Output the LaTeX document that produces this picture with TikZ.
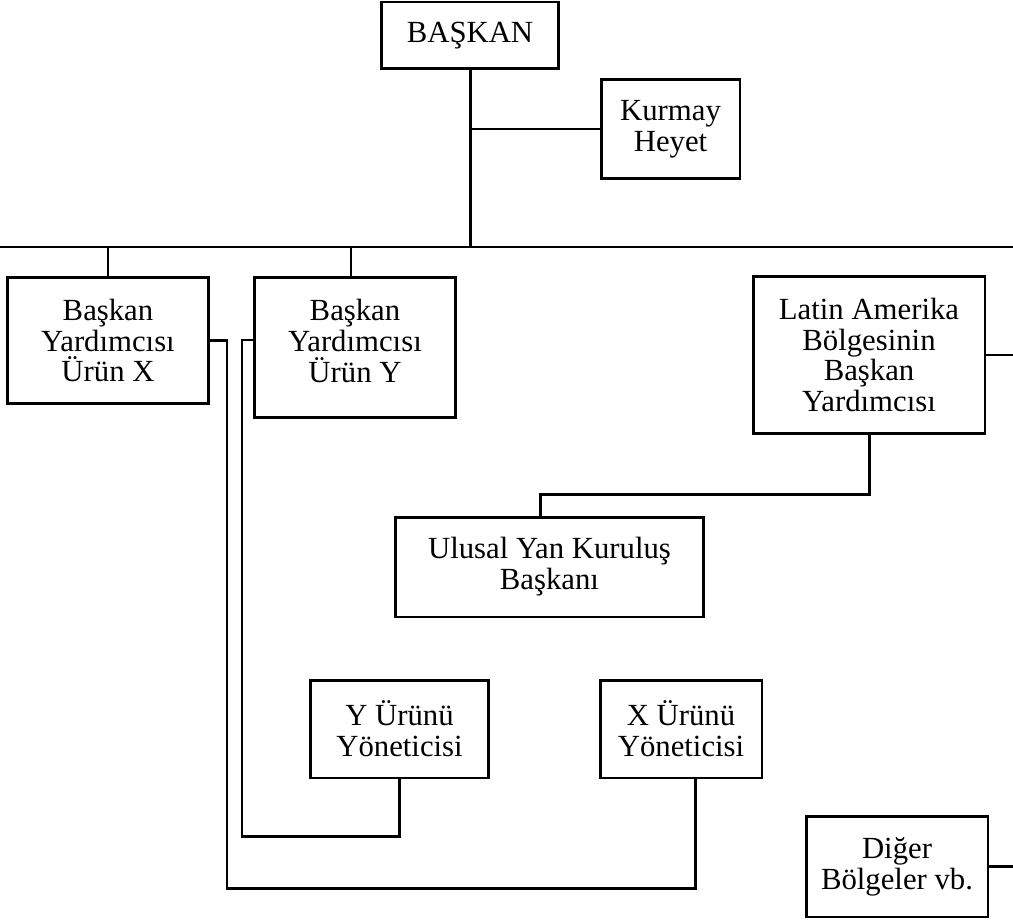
\documentclass[tikz,border=0pt]{standalone}
\usepackage{fontspec}
\setmainfont{Liberation Serif}
\usetikzlibrary{calc}
\definecolor{Ink}{HTML}{000000}
\tikzset{
  unit/.style={
    draw=Ink, line width=1.7pt, fill=white, align=center, inner sep=0pt,
    font=\fontsize{17.5}{17.6}\selectfont
  },
  link/.style={draw=Ink, line width=1.7pt}
}

\begin{document}
\begin{tikzpicture}[x=0.02cm,y=-0.02cm]
    \useasboundingbox (0,0) rectangle (1013,922);
    \node[unit,minimum width=3.54cm,minimum height=1.34cm] (baskan) at (470,35.5) {BAŞKAN};
    \node[unit,minimum width=2.78cm,minimum height=2.0cm] (kurmay) at (670.5,129) {Kurmay\\Heyet};
    \node[unit,minimum width=4.04cm,minimum height=2.54cm] (urunx) at (108,340.5) {Başkan\\Yardımcısı\\Ürün X};
    \node[unit,minimum width=4.04cm,minimum height=2.82cm] (uruny) at (355,347.5) {Başkan\\Yardımcısı\\Ürün Y\\[-10pt]\mbox{}};
    \node[unit,minimum width=4.64cm,minimum height=3.16cm] (latin) at (869,355) {Latin Amerika\\Bölgesinin\\Başkan\\Yardımcısı};
    \node[unit,minimum width=6.18cm,minimum height=2.0cm] (ulusal) at (549.5,567) {Ulusal Yan Kuruluş\\Başkanı};
    \node[unit,minimum width=3.58cm,minimum height=1.96cm] (yurun) at (399.5,729) {Y Ürünü\\Yöneticisi};
    \node[unit,minimum width=3.24cm,minimum height=1.96cm] (xurun) at (681,729) {X Ürünü\\Yöneticisi};
    \node[unit,minimum width=3.64cm,minimum height=2.02cm] (diger) at (897,866.5) {Diğer\\Bölgeler vb.};

    \coordinate (bus) at (470,247);
    \coordinate (busL) at (0,247);
    \coordinate (busR) at (1013,247);
    \coordinate (xloop) at (227,888);
    \coordinate (yloop) at (242,836);
    \coordinate (ydrop) at ($(uruny.north)+(-4,0)$);

    \draw[link] (busL) -- (busR);
    \draw[link] (baskan.south) -- (bus);
    \draw[link] (kurmay.west) -- (kurmay.west -| bus);
    \draw[link] (urunx.north) -- (urunx.north |- bus);
    \draw[link] (ydrop) -- (ydrop |- bus);
    \draw[link] (latin.east) -- (latin.east -| busR);
    \draw[link] (diger.east) -- (diger.east -| busR);
    \draw[link] (latin.south) -- ++(0,59) -| ($(ulusal.north)+(-9.5,0)$);
    \draw[link] (urunx.east) -| (xloop) -| ($(xurun.south)+(14,0)$);
    \draw[link] ($(uruny.west)+(0,-7.5)$) -| (yloop) -| (yurun.south);
\end{tikzpicture}
\end{document}
